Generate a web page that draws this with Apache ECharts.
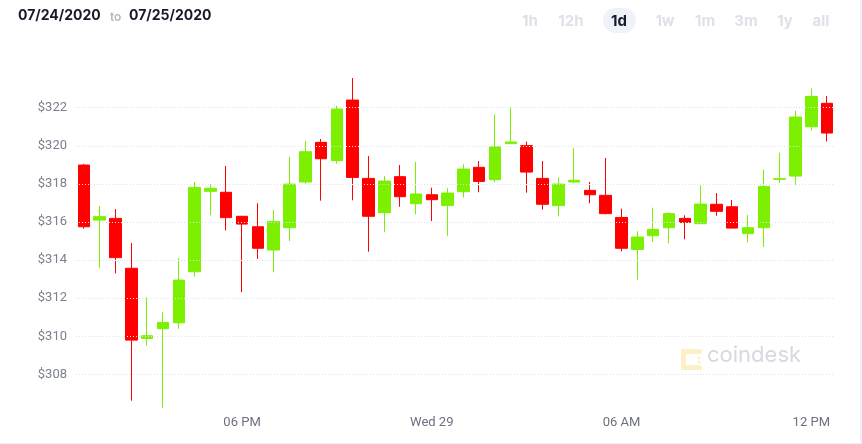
<!DOCTYPE html>
<html>
<head>
<meta charset="utf-8">
<script src="https://cdn.jsdelivr.net/npm/echarts@6/dist/echarts.min.js"></script>
<style>
  html, body { margin: 0; padding: 0; background: #fff; }
  #chart { width: 862px; height: 444px; }
</style>
</head>
<body>
<div id="chart"></div>
<script>
// half-hour candles, 13:00 Tue -> 12:30 Wed
const times = [
  '13:00','13:30','14:00','14:30','15:00','15:30','16:00','16:30',
  '17:00','17:30','18:00','18:30','19:00','19:30','20:00','20:30',
  '21:00','21:30','22:00','22:30','23:00','23:30','00:00','00:30',
  '01:00','01:30','02:00','02:30','03:00','03:30','04:00','04:30',
  '05:00','05:30','06:00','06:30','07:00','07:30','08:00','08:30',
  '09:00','09:30','10:00','10:30','11:00','11:30','12:00','12:30'
]

const opens = [
  318.99, 316.10, 316.19, 313.57, 309.89, 310.40, 310.71, 313.39,
  317.61, 317.56, 316.30, 315.75, 314.53, 315.70, 318.10, 320.18,
  319.22, 322.40, 318.29, 316.49, 318.38, 316.96, 317.43, 316.86,
  317.59, 318.87, 318.22, 320.11, 320.01, 318.29, 316.86, 318.10,
  317.66, 317.40, 316.24, 314.56, 315.28, 315.70, 316.19, 315.91,
  316.93, 316.80, 315.39, 315.70, 318.24, 318.41, 321.00, 322.23
]
const closes = [
  315.75, 316.28, 314.13, 309.80, 310.03, 310.73, 312.95, 317.82,
  317.77, 316.23, 315.89, 314.62, 316.03, 317.99, 319.69, 319.32,
  321.93, 318.34, 316.30, 318.15, 317.33, 317.47, 317.17, 317.52,
  318.78, 318.13, 319.95, 320.20, 318.62, 316.93, 317.99, 318.19,
  317.43, 316.44, 314.62, 315.21, 315.61, 316.44, 315.98, 316.94,
  316.56, 315.68, 315.70, 317.87, 318.27, 321.51, 322.59, 320.67
]
const lows = [
  315.65, 313.60, 313.30, 306.62, 309.51, 306.25, 310.40, 313.13,
  316.35, 315.56, 312.31, 314.06, 313.36, 315.00, 318.01, 317.12,
  319.06, 317.14, 314.44, 315.46, 316.80, 316.40, 316.05, 315.26,
  317.29, 317.56, 318.08, 320.11, 317.54, 316.65, 316.30, 318.03,
  316.98, 316.40, 314.46, 312.97, 314.95, 314.88, 315.09, 315.91,
  316.33, 315.68, 314.93, 314.69, 318.05, 317.96, 320.79, 320.23
]
const highs = [
  319.04, 316.84, 316.68, 314.90, 312.04, 311.26, 314.11, 318.10,
  317.98, 318.94, 316.32, 316.98, 316.63, 319.41, 320.25, 320.36,
  322.10, 323.56, 319.46, 318.41, 318.99, 319.15, 317.80, 317.78,
  319.03, 319.20, 321.65, 322.00, 320.22, 319.20, 318.34, 319.88,
  318.10, 319.36, 316.70, 315.51, 316.75, 316.51, 316.35, 317.92,
  317.52, 317.15, 316.37, 318.76, 319.64, 321.84, 323.01, 322.61
]

const tickTimes = ['18:00', '00:00', '06:00', '12:00']
const tickLabels = ['06 PM', 'Wed 29', '06 AM', '12 PM']
const ranges = ['1h', '12h', '1d', '1w', '1m', '3m', '1y', 'all']
const rangeX = [530, 571, 619, 665, 705, 746, 785, 821]

const candles = opens.map((o, i) => [o, closes[i], lows[i], highs[i]])

const green = '#7cf000'
const red = '#ff0000'

// header + watermark
let graphics = [
  { type: 'text', left: 18, top: 9, style: { text: '07/24/2020', font: 'bold 14px Inter', fill: '#171a2b' } },
  { type: 'text', left: 110, top: 11, style: { text: 'to', font: '600 12px Inter', fill: '#b4b7c3' } },
  { type: 'text', left: 129, top: 9, style: { text: '07/25/2020', font: 'bold 14px Inter', fill: '#171a2b' } },
  { type: 'rect', shape: { x: 603, y: 8, width: 33, height: 25, r: 12.5 }, style: { fill: '#eff2f8' } },
  { type: 'rect', shape: { x: 860, y: 0, width: 2, height: 444 }, style: { fill: '#eef0f5' } },
  { type: 'rect', shape: { x: 0, y: 443, width: 862, height: 1 }, style: { fill: '#f0f1f5' } },
  // coindesk mark
  { type: 'rect', shape: { x: 681, y: 349, width: 5, height: 21, r: 2.5 }, style: { fill: '#fdf0c6' } },
  { type: 'rect', shape: { x: 681, y: 349, width: 21, height: 5, r: 2.5 }, style: { fill: '#fdf0c6' } },
  { type: 'rect', shape: { x: 681, y: 365, width: 21, height: 5, r: 2.5 }, style: { fill: '#fdf0c6' } },
  { type: 'circle', shape: { cx: 699, cy: 358, r: 1.5 }, style: { fill: '#fdf0c6' } },
  { type: 'circle', shape: { cx: 699, cy: 362, r: 1.5 }, style: { fill: '#fdf0c6' } },
  { type: 'text', left: 707, top: 344, style: { text: 'coindesk', font: '22px Inter', fill: '#d6d9e0' } }
]
ranges.forEach((r, i) => {
  graphics.push({
    type: 'text',
    x: rangeX[i], y: 21,
    style: {
      text: r, font: 'bold 15px Inter',
      fill: r === '1d' ? '#171a2b' : '#dfe1e9',
      align: 'center', verticalAlign: 'middle'
    }
  })
})

const chart = echarts.init(document.getElementById('chart'))
chart.setOption({
  animation: false,
  backgroundColor: '#fff',
  graphic: graphics,
  grid: { left: 76, right: 27, top: 69.6, bottom: 31.5 },
  xAxis: {
    type: 'category',
    data: times,
    boundaryGap: true,
    axisLine: { show: false },
    axisTick: { show: false },
    splitLine: { show: false },
    axisLabel: {
      margin: 4,
      color: '#6c7080',
      fontFamily: 'Roboto',
      fontSize: 13,
      interval: (idx, val) => tickTimes.indexOf(val) >= 0,
      formatter: val => tickLabels[tickTimes.indexOf(val)] || ''
    }
  },
  yAxis: {
    type: 'value',
    min: 306,
    max: 324,
    interval: 2,
    z: 5,
    axisLine: { show: false },
    axisTick: { show: false },
    axisLabel: {
      margin: 9,
      color: '#7b7f8e',
      fontFamily: 'Roboto',
      fontSize: 13,
      showMinLabel: false,
      showMaxLabel: false,
      formatter: v => (v === 306 || v === 324) ? '' : '$' + v
    },
    splitLine: {
      show: true,
      showMinLine: false,
      showMaxLine: false,
      lineStyle: { color: '#dce3ef', type: [1, 2], width: 1 }
    }
  },
  series: [{
    type: 'candlestick',
    data: candles,
    barWidth: 12,
    z: 2,
    itemStyle: {
      color: green,
      color0: red,
      borderColor: green,
      borderColor0: red,
      borderWidth: 1
    }
  }]
})
</script>
</body>
</html>
